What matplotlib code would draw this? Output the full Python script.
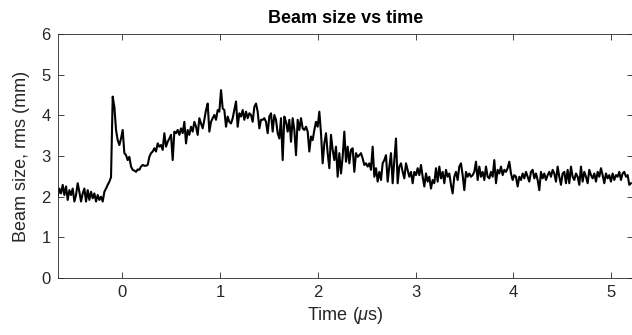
import numpy as np
import matplotlib
matplotlib.use("Agg")
import matplotlib.pyplot as plt

plt.rcParams['font.family'] = ['Liberation Sans', 'DejaVu Sans']
plt.rcParams['mathtext.fontset'] = 'custom'
plt.rcParams['mathtext.it'] = 'Liberation Sans:italic'
plt.rcParams['mathtext.rm'] = 'Liberation Sans'

# Sampled beam-size record (rms, mm), uniform sampling in time
T_START = -0.6625   # us
T_END = 5.205       # us

beam_size = [
    # pre-pulse baseline
    2.00, 2.20, 2.08, 2.29, 2.04, 2.25, 1.92, 2.16, 2.04, 2.20,
    1.88, 2.04, 2.33, 2.12, 1.88, 2.08, 2.20, 1.88, 2.16, 1.92,
    2.12, 1.96, 2.08, 1.88, 2.04, 1.92, 2.00, 1.88, 2.12, 2.20,
    2.29, 2.37, 2.48,
    # spike and recovery
    4.46, 4.21, 3.64, 3.39, 3.27, 3.43, 3.64, 3.07, 3.02, 2.90,
    2.98, 2.74, 2.66, 2.64, 2.61, 2.67, 2.66, 2.74, 2.78, 2.76,
    2.76, 2.78, 2.98, 3.07, 3.11, 3.19, 3.11, 3.31, 3.23, 3.27,
    3.15, 3.56, 3.23, 3.35, 3.43, 3.52, 2.90, 3.60, 3.56, 3.64,
    3.52, 3.68, 3.56, 3.84, 3.31, 3.64, 3.52, 3.72, 3.60, 3.84,
    # broad maximum
    3.72, 3.52, 3.93, 3.80, 3.68, 3.89, 4.13, 4.29, 3.60, 3.84,
    3.93, 4.01, 3.89, 4.13, 4.09, 4.62, 4.17, 4.13, 3.72, 3.97,
    3.84, 3.80, 3.93, 4.13, 4.34, 3.72, 4.05, 3.97, 4.13, 3.89,
    4.09, 3.93, 4.05, 4.01, 3.84, 4.21, 4.29, 4.09, 3.68, 3.89,
    3.89, 3.93, 3.84, 3.56, 3.97, 4.05, 3.60, 4.01, 3.89, 3.56,
    3.43, 3.93, 2.90, 3.97, 3.84, 3.60, 3.89, 3.35, 3.93, 3.64,
    3.02, 3.89, 3.64, 3.93, 3.68, 3.64, 3.72, 3.60, 3.11, 3.48,
    3.39, 3.64, 3.84, 3.72, 4.09, 3.56, 2.82, 3.31, 3.56, 3.07,
    2.70, 3.52, 3.15, 2.90,
    # decay
    3.23, 2.49, 3.07, 2.57, 2.98, 3.60, 2.86, 3.23, 2.82, 3.15,
    3.19, 2.61, 3.07, 2.98, 3.02, 3.07, 2.94, 2.78, 2.82, 2.74,
    2.82, 2.66, 3.23, 2.49, 2.70, 2.37, 2.61, 2.41, 2.82, 2.90,
    3.02, 2.37, 2.74, 3.07, 2.33, 2.90, 3.43, 2.33, 2.74, 2.82,
    2.61, 2.45, 2.82, 2.66, 2.49, 2.61, 2.33, 2.61, 2.53, 2.70,
    2.53, 2.78, 2.49, 2.25, 2.57, 2.37, 2.49, 2.20, 2.41, 2.33,
    2.70, 2.37, 2.74, 2.45, 2.61, 2.33, 2.66, 2.49, 2.57, 2.29,
    2.08, 2.49, 2.61, 2.41, 2.74, 2.82, 2.53, 2.16, 2.61, 2.49,
    2.57, 2.49, 2.53, 2.61,
    # late plateau
    2.86, 2.41, 2.74, 2.49, 2.61, 2.41, 2.74, 2.49, 2.45, 2.61,
    2.49, 2.90, 2.33, 2.66, 2.57, 2.74, 2.53, 2.66, 2.61, 2.70,
    2.86, 2.57, 2.41, 2.53, 2.49, 2.25, 2.49, 2.41, 2.57, 2.45,
    2.61, 2.49, 2.37, 2.61, 2.66, 2.45, 2.57, 2.41, 2.16, 2.61,
    2.45, 2.57, 2.41, 2.53, 2.61, 2.49, 2.66, 2.57, 2.37, 2.74,
    2.49, 2.29, 2.57, 2.61, 2.33, 2.66, 2.33, 2.74, 2.49, 2.41,
    2.57, 2.49, 2.29, 2.74, 2.37, 2.61, 2.49, 2.33, 2.66, 2.53,
    2.45, 2.57, 2.37, 2.61, 2.49, 2.70, 2.53, 2.33, 2.57, 2.45,
    2.53, 2.37, 2.57, 2.41, 2.53, 2.49, 2.61, 2.41, 2.57, 2.61,
    2.49, 2.53, 2.29, 2.33,
]

time_us = np.linspace(T_START, T_END, len(beam_size))

x_ticks = [0, 1, 2, 3, 4, 5]
y_ticks = [0, 1, 2, 3, 4, 5, 6]

fig = plt.figure(figsize=(6.32, 3.35), dpi=100)
ax = fig.add_axes([57.7 / 632, 57 / 335, 575.8 / 632, 244 / 335])

ax.plot(time_us, beam_size, color='black', linewidth=1.5)

ax.set_xlim(-0.6625, 5.231)
ax.set_ylim(0, 6)
ax.set_xticks(x_ticks)
ax.set_yticks(y_ticks)

axis_grey = '#262626'
for s in ax.spines.values():
    s.set_color(axis_grey)
    s.set_linewidth(0.6)
ax.tick_params(direction='in', length=4, width=0.6, colors=axis_grey,
               labelsize=12, top=True, right=True, pad=5)
for lbl in ax.get_xticklabels() + ax.get_yticklabels():
    lbl.set_color(axis_grey)

ax.set_xlabel(r'Time ($\mu$s)', fontsize=13, color=axis_grey, labelpad=4)
ax.set_ylabel('Beam size, rms (mm)', fontsize=13, color=axis_grey, labelpad=8)
ax.set_title('Beam size vs time', fontsize=13, fontweight='bold', pad=8)

fig.savefig('out.png', dpi=100)
